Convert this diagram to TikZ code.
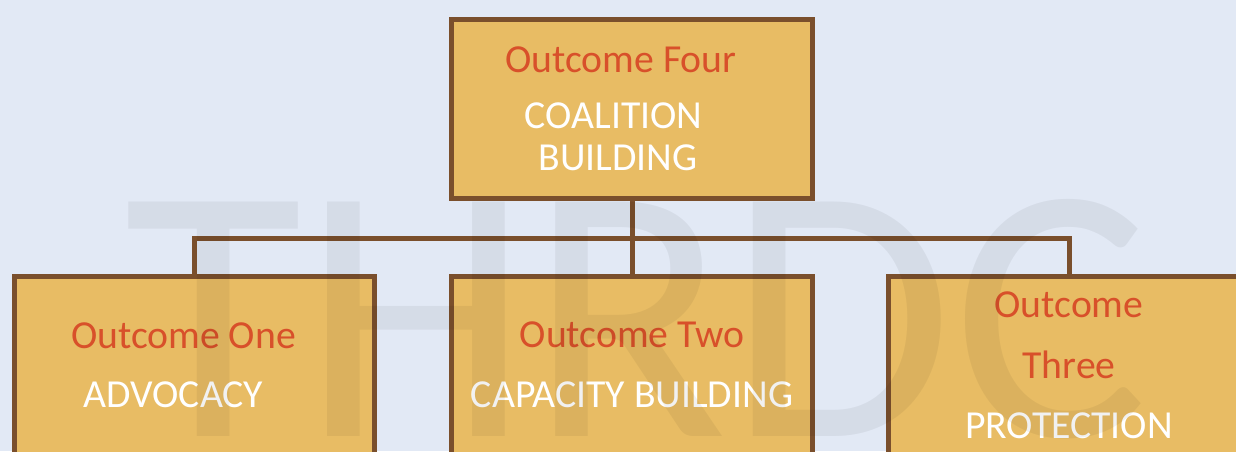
\documentclass[tikz,border=0pt]{standalone}
\usepackage{fontspec}
\setmainfont{Carlito}
\definecolor{bgblue}{HTML}{E2E9F5}
\definecolor{boxgold}{HTML}{E8BC64}
\definecolor{boxbrown}{HTML}{7A4F2C}
\definecolor{outred}{HTML}{D8502A}

\begin{document}
\begin{tikzpicture}[x=0.02cm,y=-0.02cm,
    outbox/.style={draw=boxbrown,fill=boxgold,line width=2.85pt,minimum width=7.22cm,minimum height=3.6cm,inner sep=0pt},
    outname/.style={text=outred,anchor=base,inner sep=0pt,font=\fontsize{22.6}{27}\selectfont},
    outtheme/.style={text=white,anchor=base,inner sep=0pt,font=\fontsize{22.6}{27}\selectfont},
    link/.style={draw=boxbrown,line width=2.85pt},
    watermark/.style={anchor=base west,inner sep=0pt,text=black,text opacity=0.055,font=\fontsize{208}{208}\selectfont}]
    \fill[bgblue] (0,0) rectangle (1236,451);
    \useasboundingbox (0,0) rectangle (1236,451);
    \clip (0,0) rectangle (1236,451);
    \node[outbox] (four) at (632,109) {};
    \node[outbox] (one) at (194.5,366.5) {};
    \node[outbox] (two) at (632,366.5) {};
    \node[outbox] (three) at (1069,366.5) {};
    \coordinate (bar) at (632,238);
    \draw[link] (four.south) -- (two.north);
    \draw[link] (one.north) |- (bar) -| (three.north);
    \node[outname] (fourname) at (621,72) {Outcome Four};
    \node[outtheme] (fourtop) at (613.5,128) {COALITION};
    \node[outtheme] (fourbot) at (618,170) {BUILDING};
    \node[outname] (onename) at (183.5,348) {Outcome One};
    \node[outtheme] (onetheme) at (173.5,407) {ADVOCACY};
    \node[outname] (twoname) at (632,347) {Outcome Two};
    \node[outtheme] (twotheme) at (632,407) {CAPACITY BUILDING};
    \node[outname] (threetop) at (1069,317) {Outcome};
    \node[outname] (threebot) at (1069,378) {Three};
    \node[outtheme] (threetheme) at (1069,438) {PROTECTION};
    \node[watermark] (mark) at (124,436) {THRDC};
  \end{tikzpicture}
\end{document}
